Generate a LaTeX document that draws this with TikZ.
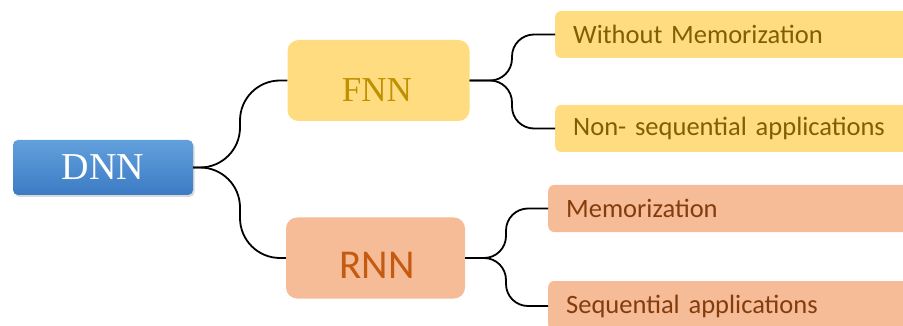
\documentclass[tikz,border=0pt]{standalone}
\usepackage{fontspec}
\setmainfont{Liberation Serif}
\newfontfamily\leaffont[WordSpace=0.75]{Carlito}
\usetikzlibrary{shadows}
\definecolor{dnnTop}{HTML}{62A0DC}
\definecolor{dnnBot}{HTML}{3C7BC4}
\definecolor{fnnFill}{HTML}{FFDC7F}
\definecolor{fnnText}{HTML}{BF9000}
\definecolor{fnnLeafText}{HTML}{7F6000}
\definecolor{rnnFill}{HTML}{F5BC97}
\definecolor{rnnText}{HTML}{C55A11}
\definecolor{rnnLeafText}{HTML}{843C0C}
\tikzset{
  rootbox/.style={rectangle, rounded corners=5pt, top color=dnnTop, bottom color=dnnBot,
    minimum width=180pt, minimum height=55pt, inner sep=0pt,
    text=white, font=\fontsize{38}{40}\selectfont,
    drop shadow={shadow xshift=1.5pt, shadow yshift=-2pt, opacity=0.3}},
  midbox/.style={rectangle, rounded corners=11pt, minimum width=182pt,
    minimum height=81pt, inner sep=0pt},
  leafbox/.style={rectangle, rounded corners=6pt, anchor=west, minimum height=47pt,
    inner xsep=18pt, inner ysep=0pt, text width=340pt, align=left,
    font=\leaffont\fontsize{26.5}{28}\selectfont},
  link/.style={draw=black, line width=1.8pt},
}
\begin{document}
\begin{tikzpicture}[x=1pt, y=-1pt]
\useasboundingbox (0,0) rectangle (903,326);

% root
\node[rootbox] (dnn) at (103,167.5) {DNN};

% second level; labels sit a little below the box centre
\node[midbox, fill=fnnFill] (fnn) at (378.5,80.5) {};
\node[text=fnnText, font=\fontsize{35}{38}\selectfont, inner sep=0pt] (fnnlabel) at (377,90) {FNN};
\node[midbox, fill=rnnFill, minimum width=179pt] (rnn) at (375.5,258) {};
\node[text=rnnText, font=\leaffont\fontsize{41}{44}\selectfont, inner sep=0pt] (rnnlabel) at (377,265) {RNN};

% leaves
\node[leafbox, fill=fnnFill, text=fnnLeafText] (wom) at (555,34.5) {Without Memorization};
\node[leafbox, fill=fnnFill, text=fnnLeafText] (nsa) at (555,128.5) {Non- sequential applications};
\node[leafbox, fill=rnnFill, text=rnnLeafText] (mem) at (548,208.5) {Memorization};
\node[leafbox, fill=rnnFill, text=rnnLeafText, minimum height=50pt] (seq) at (548,306) {Sequential applications};

% brace-like connectors
\draw[link, rounded corners=40pt] (dnn.east) -- (240,167.5) |- (fnn.west);
\draw[link, rounded corners=40pt] (dnn.east) -- (240,167.5) |- (rnn.west);
\draw[link, rounded corners=22pt] (fnn.east) -- (512,80.5) |- (wom.west);
\draw[link, rounded corners=22pt] (fnn.east) -- (512,80.5) |- (nsa.west);
\draw[link, rounded corners=22pt] (rnn.east) -- (506,258) |- (mem.west);
\draw[link, rounded corners=22pt] (rnn.east) -- (506,258) |- (seq.west);
\end{tikzpicture}
\end{document}
